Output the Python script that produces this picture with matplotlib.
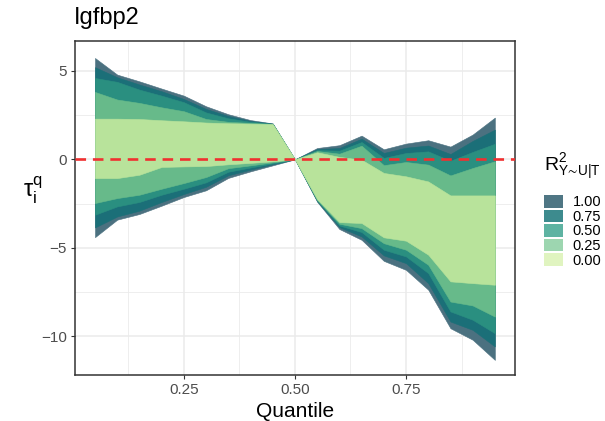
import matplotlib
matplotlib.use('Agg')
import matplotlib.pyplot as plt
from matplotlib.patches import Patch

plt.rcParams['font.family'] = ['Liberation Sans', 'DejaVu Sans']
plt.rcParams['mathtext.fontset'] = 'custom'
plt.rcParams['mathtext.rm'] = 'Liberation Sans'
plt.rcParams['mathtext.it'] = 'Liberation Sans'
plt.rcParams['mathtext.default'] = 'regular'

# quantiles
quantile = [0.05, 0.10, 0.15, 0.20, 0.25, 0.30, 0.35, 0.40, 0.45, 0.50,
            0.55, 0.60, 0.65, 0.70, 0.75, 0.80, 0.85, 0.90, 0.95]

# R^2 levels, outermost first
r2_levels = ['1.00', '0.75', '0.50', '0.25', '0.00']

# upper bounds per level
upper_100 = [5.73, 4.79, 4.41, 4.00, 3.60, 3.00, 2.55, 2.22, 2.03, 0.0,
             0.64, 0.80, 1.34, 0.57, 0.89, 1.08, 0.72, 1.40, 2.36]
upper_075 = [5.21, 4.64, 4.23, 3.85, 3.41, 2.85, 2.45, 2.17, 2.02, 0.0,
             0.58, 0.64, 1.17, 0.36, 0.66, 0.78, 0.30, 1.04, 1.68]
upper_050 = [4.60, 4.38, 3.94, 3.60, 3.23, 2.65, 2.32, 2.12, 2.01, 0.0,
             0.52, 0.49, 0.98, 0.08, 0.36, 0.45, -0.08, 0.42, 0.88]
upper_025 = [3.81, 3.38, 3.19, 2.94, 2.72, 2.28, 2.12, 2.06, 2.00, 0.0,
             0.47, 0.32, 0.77, -0.33, -0.15, -0.30, -0.91, -0.49, -0.11]
upper_000 = [2.30, 2.30, 2.28, 2.21, 2.15, 2.08, 2.04, 2.02, 1.99, 0.0,
             0.40, 0.14, -0.02, -0.77, -0.96, -1.25, -2.04, -2.04, -2.04]

# lower bounds per level
lower_100 = [-4.40, -3.41, -3.09, -2.62, -2.13, -1.75, -1.05, -0.68, -0.34, 0.0,
             -2.40, -3.94, -4.55, -5.74, -6.25, -7.37, -9.55, -10.20, -11.34]
lower_075 = [-3.85, -3.23, -2.90, -2.41, -1.96, -1.55, -0.90, -0.58, -0.28, 0.0,
             -2.36, -3.83, -4.36, -5.43, -5.87, -7.00, -9.17, -9.64, -10.58]
lower_050 = [-3.13, -2.66, -2.41, -2.00, -1.66, -1.30, -0.70, -0.46, -0.23, 0.0,
             -2.33, -3.74, -4.11, -5.11, -5.49, -6.43, -8.60, -9.07, -9.83]
lower_025 = [-2.47, -2.19, -2.00, -1.66, -1.34, -1.00, -0.50, -0.34, -0.17, 0.0,
             -2.30, -3.64, -3.89, -4.74, -5.11, -5.96, -8.04, -8.26, -8.89]
lower_000 = [-1.06, -1.06, -0.87, -0.43, -0.40, -0.38, -0.28, -0.20, -0.11, 0.0,
             -2.25, -3.55, -3.60, -4.41, -4.60, -5.39, -6.90, -7.00, -7.09]

uppers = [upper_100, upper_075, upper_050, upper_025, upper_000]
lowers = [lower_100, lower_075, lower_050, lower_025, lower_000]
fill_colors = ['#4b7180', '#1b6f78', '#2a8f80', '#67ba8a', '#b8e39b']
key_colors = ['#4f7684', '#3d8b8e', '#5eb3a2', '#9dd6b0', '#e0f4c0']

fig = plt.figure(figsize=(6.05, 4.21), dpi=100)
ax = fig.add_axes([0.124, 0.109, 0.727, 0.794])

for lo, hi, c in zip(lowers, uppers, fill_colors):
    ax.fill_between(quantile, lo, hi, color=c, linewidth=0.4, edgecolor=c, zorder=2)

ax.axhline(0, color='#f03030', linestyle=(0, (4, 2.6)), linewidth=1.9, zorder=3)

ax.set_xlim(0.005, 0.995)
ax.set_ylim(-12.2, 6.7)
ax.set_xticks([0.25, 0.50, 0.75])
ax.set_xticklabels(['0.25', '0.50', '0.75'])
ax.set_xticks([0.125, 0.375, 0.625, 0.875], minor=True)
ax.set_yticks([-10, -5, 0, 5])
ax.set_yticks([-7.5, -2.5, 2.5], minor=True)
ax.grid(which='major', color='#ebebeb', linewidth=1.1, zorder=0)
ax.grid(which='minor', color='#ebebeb', linewidth=0.6, zorder=0)
ax.set_axisbelow(True)
ax.tick_params(which='major', length=3, width=0.8, color='#333333',
               labelsize=11, labelcolor='#4d4d4d', pad=3)
ax.tick_params(which='minor', length=0)
for s in ax.spines.values():
    s.set_color('#333333')
    s.set_linewidth(1.1)

ax.set_xlabel('Quantile', fontsize=15, labelpad=3)
fig.text(0.055, 1 - 190 / 421, r'$\tau_i^q$', fontsize=17, ha='center', va='center')
fig.text(0.122, 1 - 18 / 421, 'Igfbp2', fontsize=17, ha='left', va='center')

handles = [Patch(facecolor=c, edgecolor='none') for c in key_colors]
leg = fig.legend(handles, r2_levels, loc='upper left', bbox_to_anchor=(0.89, 0.652),
                 frameon=False, fontsize=10.5, title=r'$R^2_{Y\!\sim\!U|T}$',
                 title_fontsize=14, handlelength=1.25, handleheight=0.95,
                 labelspacing=0.02, handletextpad=0.7, borderaxespad=0)
leg._legend_box.align = 'left'
leg._legend_box.sep = 9

fig.savefig('out.png', dpi=100)
